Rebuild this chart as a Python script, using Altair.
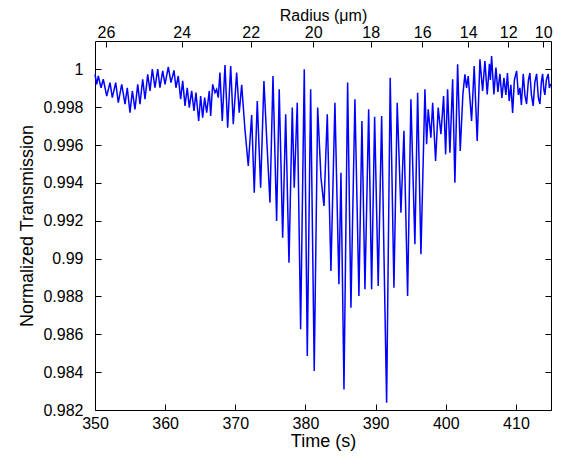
import altair as alt
import pandas as pd

# Time (s) of the read-off points
times = [
    350.00, 350.24, 350.47, 350.86, 351.18, 351.67, 352.14, 352.47, 352.95, 353.32,
    353.81, 354.28, 354.60, 354.99, 355.32, 355.70, 356.09, 356.41, 356.80, 357.13,
    357.51, 357.84, 358.17, 358.55, 358.94, 359.26, 359.65, 359.98, 360.45, 360.83,
    361.26, 361.54, 361.87, 362.21, 362.50, 362.83, 363.15, 363.44, 363.78, 364.11,
    364.39, 364.78, 365.06, 365.35, 365.63, 365.92, 366.29, 366.49, 366.77, 367.10,
    367.34, 367.57, 367.81, 368.14, 368.53, 368.91, 369.34, 369.71, 370.19, 370.56,
    370.91, 371.38, 371.85, 372.33, 372.70, 373.13, 373.61, 374.08, 374.47, 374.94,
    375.37, 375.89, 376.26, 376.75, 377.18, 377.65, 378.12, 378.40, 378.83, 379.31,
    379.83, 380.26, 380.74, 381.25, 381.74, 382.21, 382.64, 383.11, 383.63, 384.20,
    384.77, 385.06, 385.49, 386.01, 386.48, 387.05, 387.62, 388.05, 388.48, 389.01,
    389.43, 389.86, 390.37, 390.86, 391.19, 391.57, 392.08, 392.61, 393.08, 393.61,
    394.04, 394.56, 395.03, 395.60, 395.99, 396.46, 397.03, 397.27, 397.50, 397.88,
    398.13, 398.55, 398.92, 399.31, 399.69, 399.98, 400.26, 400.59, 400.98, 401.30,
    401.69, 402.06, 402.44, 402.73, 402.97, 403.20, 403.68, 404.05, 404.48, 404.87,
    405.25, 405.58, 405.91, 406.22, 406.36, 406.53, 406.86, 407.15, 407.43, 407.72,
    408.00, 408.29, 408.57, 408.79, 409.04, 409.28, 409.53, 409.78, 410.10, 410.35,
    410.57, 410.78, 411.04, 411.28, 411.52, 411.78, 411.99, 412.21, 412.46, 412.70,
    412.95, 413.20, 413.42, 413.63, 413.80, 413.99, 414.13, 414.34, 414.60, 414.77,
    414.94,
]

# Normalized transmission at those times
transmission = [
    0.99974, 0.99921, 0.99965, 0.99903, 0.99948, 0.99859, 0.99930, 0.99851, 0.99930, 0.99824,
    0.99921, 0.99816, 0.99903, 0.99771, 0.99886, 0.99789, 0.99921, 0.99816, 0.99948, 0.99842,
    0.99974, 0.99886, 1.00001, 0.99903, 1.00001, 0.99903, 0.99992, 0.99921, 1.00013, 0.99930,
    0.99995, 0.99903, 0.99965, 0.99842, 0.99939, 0.99807, 0.99903, 0.99798, 0.99886, 0.99780,
    0.99877, 0.99727, 0.99859, 0.99745, 0.99851, 0.99771, 0.99886, 0.99754, 0.99921, 0.99877,
    0.99895, 0.99851, 0.99983, 0.99727, 1.00023, 0.99692, 1.00018, 0.99710, 0.99983, 0.99771,
    0.99918, 0.99680, 0.99490, 0.99759, 0.99348, 0.99833, 0.99375, 0.99939, 0.99639, 0.99296,
    0.99965, 0.99199, 0.99895, 0.99111, 0.99763, 0.98978, 0.99798, 0.99375, 0.99824, 0.98627,
    1.00001, 0.98485, 0.99895, 0.98406, 0.99798, 0.99428, 0.99278, 0.99763, 0.98935, 0.99824,
    0.98864, 0.99454, 0.98309, 0.99930, 0.98741, 0.99842, 0.98803, 0.99727, 0.98838, 0.99789,
    0.98838, 0.99749, 0.98855, 0.99754, 0.99023, 0.98239, 0.99956, 0.98846, 0.99824, 0.99243,
    0.99675, 0.98803, 0.99842, 0.99076, 0.99877, 0.99023, 0.99895, 0.99604, 0.99789, 0.99639,
    0.99824, 0.99516, 0.99798, 0.99657, 0.99859, 0.99551, 0.99895, 0.99560, 0.99948, 0.99401,
    1.00027, 0.99569, 0.99868, 0.99974, 0.99902, 0.99965, 0.99727, 1.00018, 0.99622, 1.00053,
    0.99886, 1.00044, 0.99868, 1.00029, 0.99944, 1.00071, 0.99868, 1.00009, 0.99881, 0.99976,
    0.99849, 0.99955, 0.99865, 0.99981, 0.99833, 0.99918, 0.99770, 0.99944, 0.99992, 0.99865,
    0.99902, 0.99812, 0.99976, 0.99865, 0.99817, 0.99944, 0.99981, 0.99865, 0.99807, 0.99933,
    0.99976, 0.99849, 0.99817, 0.99933, 0.99976, 0.99891, 0.99865, 0.99944, 0.99976, 0.99902,
    0.99923,
]

time_ticks = [350, 360, 370, 380, 390, 400, 410]
trans_ticks = [0.982, 0.984, 0.986, 0.988, 0.99, 0.992, 0.994, 0.996, 0.998, 1.0]
radius_labels = ["26", "24", "22", "20", "18", "16", "14", "12", "10"]
radius_times = [351.57, 362.36, 372.19, 381.11, 389.29, 396.64, 403.20, 408.90, 413.89]

df = pd.DataFrame({"t": times, "v": transmission})

x_dom = [350, 415]
y_dom = [0.982, 1.0015]

label_expr = "[" + ",".join("'%s'" % s for s in radius_labels) + "][indexof([" + \
    ",".join(str(v) for v in radius_times) + "], datum.value)]"

common_axis = dict(offset=-6, tickSize=6, domain=False, grid=False, tickColor="black",
                   labelFlush=False)

base = alt.Chart(df)

main = base.mark_line(color="#0000ff", strokeWidth=1.5).encode(
    x=alt.X("t:Q", scale=alt.Scale(domain=x_dom, nice=False, zero=False),
            axis=alt.Axis(orient="bottom", values=time_ticks, title="Time (s)",
                          labelPadding=5, titlePadding=1, format="d", **common_axis)),
    y=alt.Y("v:Q", scale=alt.Scale(domain=y_dom, nice=False, zero=False),
            axis=alt.Axis(orient="left", values=trans_ticks, format="~g",
                          title="Normalized Transmission", labelPadding=12,
                          titlePadding=6, **common_axis)),
)

second = base.mark_line(strokeOpacity=0).encode(
    x=alt.X("t:Q", scale=alt.Scale(domain=x_dom, nice=False, zero=False),
            axis=alt.Axis(orient="top", values=radius_times, labelExpr=label_expr,
                          title="Radius (μm)", labelPadding=1,
                          titleY=-26.5, titleBaseline="alphabetic",
                          titleFontSize=16, **common_axis)),
    y=alt.Y("v:Q", scale=alt.Scale(domain=y_dom, nice=False, zero=False),
            axis=alt.Axis(orient="right", values=trans_ticks, labels=False, title="",
                          **common_axis)),
)

chart = alt.layer(main, second).resolve_scale(
    x="independent", y="independent"
).properties(
    width=456, height=369,
    autosize=alt.AutoSizeParams(type="none"),
    padding={"left": 87, "top": 33, "right": 4, "bottom": 46},
    background="white",
).configure_view(
    stroke="black", strokeWidth=1
).configure_axis(
    labelFont="Liberation Sans", titleFont="Liberation Sans",
    labelFontSize=16, titleFontSize=18, labelColor="black", titleColor="black",
    titleFontWeight="normal", tickColor="black", tickWidth=1,
)

chart.save("out.html", embed_options={"renderer": "svg", "actions": False})
